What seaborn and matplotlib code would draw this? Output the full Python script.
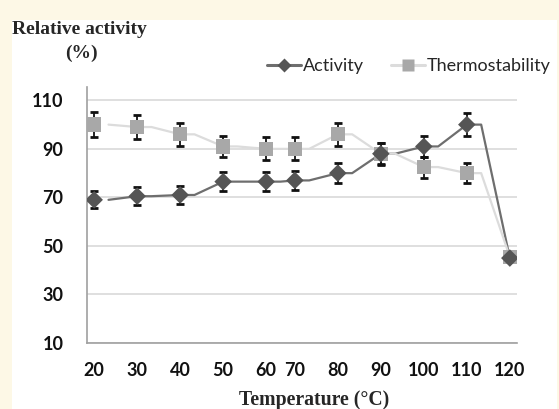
import matplotlib.pyplot as plt
import numpy as np
import pandas as pd
import seaborn as sns
from matplotlib.lines import Line2D
from matplotlib.patches import Rectangle

temperature = [20, 30, 40, 50, 60, 70, 80, 90, 100, 110, 120]
activity = [69, 70.5, 71, 76.5, 76.5, 77, 80, 88, 91, 100, 45]
activity_err = [3.5, 3.8, 3.7, 3.9, 3.8, 3.8, 4.0, 4.3, 4.5, 4.8, 1.0]
thermo = [100, 99, 96, 91, 90, 90, 96, 88, 82.5, 80, 45.5]
thermo_err = [5, 5, 4.8, 4.5, 4.7, 4.7, 4.8, 4.5, 4.3, 4.0, 1.0]

sns.set_style('white')
plt.rcParams['font.family'] = ['Lato', 'DejaVu Sans']


# the original is an Excel category axis with 30 slots, 60 and 70 sit 2 slots apart
def slot(t):
    return np.interp(t, [20, 60, 70, 120], [0.5, 12.5, 14.5, 29.5])


pos = slot(temperature)

# Excel-style connector: flat for one slot after each point, then ramp to the next
rows = []
for name, vals in [('Activity', activity), ('Thermostability', thermo)]:
    for i, v in enumerate(vals):
        if i > 0:
            rows.append((name, pos[i], v))
        if i < len(vals) - 1:
            rows.append((name, pos[i] + 1, v))
lines = pd.DataFrame(rows, columns=['series', 'pos', 'value'])

pts = pd.DataFrame({
    'pos': np.concatenate([pos, pos]),
    'value': activity + thermo,
    'series': ['Activity'] * len(pos) + ['Thermostability'] * len(pos),
})

line_col = {'Activity': '#6e6e6e', 'Thermostability': '#dcdcdc'}
mark_col = {'Activity': '#555555', 'Thermostability': '#a8a8a8'}

fig = plt.figure(figsize=(5.59, 4.09), dpi=100, facecolor='#fdf8e6')
fig.patches.append(Rectangle((12 / 559, 0), 545 / 559, 389 / 409, transform=fig.transFigure,
                             facecolor='white', edgecolor='none', zorder=-5))
ax = fig.add_axes([87 / 559, 66 / 409, 430 / 559, 256 / 409])
ax.set_facecolor('none')

sns.lineplot(data=lines, x='pos', y='value', hue='series', palette=line_col, sort=False,
             estimator=None, linewidth=1.6, legend=False, ax=ax, zorder=2)

ax.errorbar(pos, thermo, yerr=thermo_err, fmt='none', ecolor='#111111', elinewidth=1.3,
            capsize=3, capthick=2, zorder=3)
ax.errorbar(pos, activity, yerr=activity_err, fmt='none', ecolor='#111111', elinewidth=1.3,
            capsize=3, capthick=2, zorder=3)

sns.scatterplot(data=pts[pts.series == 'Thermostability'], x='pos', y='value', marker='s', s=105,
                color=mark_col['Thermostability'], edgecolor='none', ax=ax, zorder=4, legend=False)
sns.scatterplot(data=pts[pts.series == 'Activity'], x='pos', y='value', marker='D', s=80,
                color=mark_col['Activity'], edgecolor='none', ax=ax, zorder=5, legend=False)

ax.set_xlim(0, 30)
ax.set_ylim(10, 115.5)
ax.set_yticks([10, 30, 50, 70, 90, 110])
ax.yaxis.grid(True, color='#d9d9d9', linewidth=1.2)
ax.set_xticks(pos, labels=temperature)
ax.set_xticks(np.arange(0, 31), minor=True)
ax.tick_params(axis='x', which='major', length=0, pad=14, labelsize=13, labelcolor='#111111')
ax.tick_params(axis='x', which='minor', length=4, direction='out', color='#999999', width=1)
ax.tick_params(axis='y', length=4, color='#999999', pad=13, labelsize=13, labelcolor='#111111')
for lab in ax.get_xticklabels() + ax.get_yticklabels():
    lab.set_fontweight('bold')
for s in ['top', 'right']:
    ax.spines[s].set_visible(False)
for s in ['left', 'bottom']:
    ax.spines[s].set_color('#a0a0a0')
    ax.spines[s].set_linewidth(1.2)
ax.set_xlabel('')
ax.set_ylabel('')

fig.text(12 / 559, 1 - 29 / 409, 'Relative activity', family='Liberation Serif', fontweight='bold',
         fontsize=14, va='center', ha='left')
fig.text(81 / 559, 1 - 53 / 409, '(%)', family='Liberation Serif', fontweight='bold',
         fontsize=14, va='center', ha='center')
fig.text(314 / 559, 1 - 400 / 409, 'Temperature (°C)', family='Liberation Serif', fontweight='bold',
         fontsize=14.2, va='center', ha='center')

handles = [Line2D([], [], color=line_col['Activity'], linewidth=2.2, marker='D', markersize=7.5,
                  markerfacecolor=mark_col['Activity'], markeredgecolor='none'),
           Line2D([], [], color=line_col['Thermostability'], linewidth=2.2, marker='s', markersize=8.5,
                  markerfacecolor=mark_col['Thermostability'], markeredgecolor='none')]
fig.legend(handles, ['Activity', 'Thermostability'], loc='center right', ncol=2,
           bbox_to_anchor=(558 / 559, 1 - 66 / 409), frameon=False, fontsize=13,
           handlelength=1.9, handletextpad=0.1, columnspacing=1.5, borderaxespad=0)

fig.savefig('out.png', dpi=100, facecolor=fig.get_facecolor())
